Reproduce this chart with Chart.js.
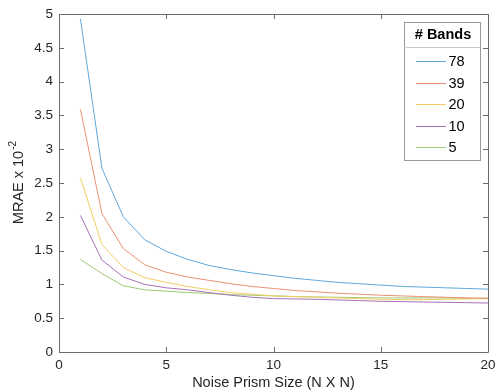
<!DOCTYPE html>
<html>
<head>
<meta charset="utf-8">
<script src="https://cdn.jsdelivr.net/npm/chart.js@4.4.1/dist/chart.umd.min.js"></script>
<style>
  html, body { margin: 0; padding: 0; background: #fff; }
  #wrap { width: 501px; height: 392px; position: relative; }
</style>
</head>
<body>
<div id="wrap"><canvas id="mraeChart"></canvas></div>
<script>
// Noise prism size (N) on the x axis
const prismSizes = [1, 2, 3, 4, 5, 6, 7, 8, 9, 10, 11, 12, 13, 14, 15, 16, 17, 18, 19, 20];

// MRAE (x 10^-2) for each number of bands
const bands78 = [4.93, 2.72, 2.00, 1.66, 1.49, 1.37, 1.28, 1.22, 1.17, 1.13, 1.09, 1.06, 1.03, 1.01, 0.99, 0.97, 0.96, 0.95, 0.94, 0.93];
const bands39 = [3.59, 2.05, 1.53, 1.29, 1.18, 1.11, 1.06, 1.01, 0.97, 0.94, 0.91, 0.89, 0.87, 0.855, 0.84, 0.83, 0.82, 0.81, 0.80, 0.795];
const bands20 = [2.58, 1.59, 1.25, 1.10, 1.03, 0.97, 0.92, 0.88, 0.855, 0.83, 0.82, 0.81, 0.80, 0.79, 0.78, 0.775, 0.775, 0.78, 0.785, 0.79];
const bands10 = [2.02, 1.36, 1.11, 1.00, 0.95, 0.92, 0.88, 0.84, 0.81, 0.79, 0.785, 0.78, 0.77, 0.76, 0.75, 0.745, 0.74, 0.735, 0.73, 0.725];
const bands5  = [1.37, 1.16, 0.98, 0.92, 0.90, 0.88, 0.865, 0.85, 0.84, 0.83, 0.82, 0.815, 0.81, 0.805, 0.80, 0.80, 0.80, 0.80, 0.795, 0.795];

const bandLabels = ['78', '39', '20', '10', '5'];
const bandSeries = [bands78, bands39, bands20, bands10, bands5];
const bandColors = ['#5ea8dc', '#eb9274', '#f3cd62', '#a670b6', '#9fc872'];

const xTicks = [0, 5, 10, 15, 20];
const yTicks = [0, 0.5, 1, 1.5, 2, 2.5, 3, 3.5, 4, 4.5, 5];

const textColor = '#262626';
const axisColor = '#6b6b6b';
const fontFamily = "'Liberation Sans', Arial, Helvetica, sans-serif";

// box around the axes with inward tick marks, MATLAB style
const axesBox = {
    id: 'axesBox',
    afterDatasetsDraw(chart) {
        const ctx = chart.ctx;
        const a = chart.chartArea;
        const xs = chart.scales.x;
        const ys = chart.scales.y;
        ctx.save();
        ctx.strokeStyle = axisColor;
        ctx.lineWidth = 1;
        ctx.beginPath();
        ctx.rect(Math.round(a.left) + 0.5, Math.round(a.top) + 0.5,
                 Math.round(a.right - a.left), Math.round(a.bottom - a.top));
        xTicks.forEach(v => {
            const px = Math.round(xs.getPixelForValue(v)) + 0.5;
            ctx.moveTo(px, a.bottom); ctx.lineTo(px, a.bottom - 5);
            ctx.moveTo(px, a.top); ctx.lineTo(px, a.top + 5);
        });
        yTicks.forEach(v => {
            const py = Math.round(ys.getPixelForValue(v)) + 0.5;
            ctx.moveTo(a.left, py); ctx.lineTo(a.left + 5, py);
            ctx.moveTo(a.right, py); ctx.lineTo(a.right - 5, py);
        });
        ctx.stroke();
        ctx.restore();
    }
};

// y title with superscript exponent
const yTitle = {
    id: 'yTitle',
    afterDraw(chart) {
        const ctx = chart.ctx;
        const a = chart.chartArea;
        const cy = (a.top + a.bottom) / 2;
        ctx.save();
        ctx.translate(23, cy);
        ctx.rotate(-Math.PI / 2);
        ctx.fillStyle = textColor;
        ctx.textBaseline = 'alphabetic';
        const main = 'MRAE x 10';
        const sup = '-2';
        ctx.font = '14.5px ' + fontFamily;
        const wMain = ctx.measureText(main).width;
        ctx.font = '10px ' + fontFamily;
        const wSup = ctx.measureText(sup).width;
        const start = -(wMain + wSup) / 2;
        ctx.font = '14.5px ' + fontFamily;
        ctx.fillText(main, start, 0);
        ctx.font = '10px ' + fontFamily;
        ctx.fillText(sup, start + wMain + 1, -7);
        ctx.restore();
    }
};

// legend box with title, drawn from the datasets
const bandLegend = {
    id: 'bandLegend',
    afterDraw(chart) {
        const ctx = chart.ctx;
        const left = 404, top = 22, w = 76, h = 138;
        ctx.save();
        ctx.fillStyle = '#ffffff';
        ctx.fillRect(left, top, w, h);
        ctx.strokeStyle = '#9a9a9a';
        ctx.lineWidth = 1;
        ctx.strokeRect(left + 0.5, top + 0.5, w, h);
        ctx.strokeStyle = '#c8c8c8';
        ctx.beginPath();
        ctx.moveTo(left, 47.5); ctx.lineTo(left + w, 47.5);
        ctx.stroke();
        ctx.fillStyle = '#000';
        ctx.font = 'bold 14.5px ' + fontFamily;
        ctx.textAlign = 'center';
        ctx.textBaseline = 'middle';
        ctx.fillText('# Bands', left + w / 2 + 1, 35);
        ctx.font = '14.5px ' + fontFamily;
        ctx.textAlign = 'left';
        chart.data.datasets.forEach((ds, i) => {
            const y = Math.round(61 + i * 21.5);
            ctx.strokeStyle = ds.borderColor;
            ctx.lineWidth = 1;
            ctx.beginPath();
            ctx.moveTo(416, y + 0.5);
            ctx.lineTo(446, y + 0.5);
            ctx.stroke();
            ctx.fillStyle = '#000';
            ctx.fillText(ds.label, 448.5, y + 1);
        });
        ctx.restore();
    }
};

const ctx = document.getElementById('mraeChart').getContext('2d');
new Chart(ctx, {
    type: 'line',
    data: {
        datasets: bandLabels.map((label, i) => ({
            label: label,
            data: prismSizes.map((n, j) => ({ x: n, y: bandSeries[i][j] })),
            borderColor: bandColors[i],
            backgroundColor: bandColors[i],
            borderWidth: 1,
            pointRadius: 0,
            tension: 0,
            fill: false
        }))
    },
    options: {
        responsive: true,
        maintainAspectRatio: false,
        animation: false,
        layout: { padding: { left: 0, right: 13, top: 14, bottom: 0 } },
        plugins: {
            legend: { display: false },
            tooltip: { enabled: false }
        },
        scales: {
            x: {
                type: 'linear',
                min: 0,
                max: 20,
                afterFit(scale) { scale.height = 40; },
                afterBuildTicks(scale) { scale.ticks = xTicks.map(v => ({ value: v })); },
                grid: { display: false, drawTicks: false },
                border: { display: false },
                ticks: {
                    color: textColor,
                    padding: 5,
                    maxRotation: 0,
                    callback: v => String(v),
                    font: { size: 13.5, family: fontFamily }
                },
                title: {
                    display: true,
                    text: 'Noise Prism Size (N X N)',
                    color: textColor,
                    padding: { top: 3, bottom: 0 },
                    font: { size: 14.5, family: fontFamily }
                }
            },
            y: {
                min: 0,
                max: 5,
                afterFit(scale) { scale.width = 59; },
                afterBuildTicks(scale) { scale.ticks = yTicks.map(v => ({ value: v })); },
                grid: { display: false, drawTicks: false },
                border: { display: false },
                ticks: {
                    color: textColor,
                    padding: 6,
                    callback: v => String(v),
                    font: { size: 13.5, family: fontFamily }
                }
            }
        }
    },
    plugins: [axesBox, yTitle, bandLegend]
});
</script>
</body>
</html>
